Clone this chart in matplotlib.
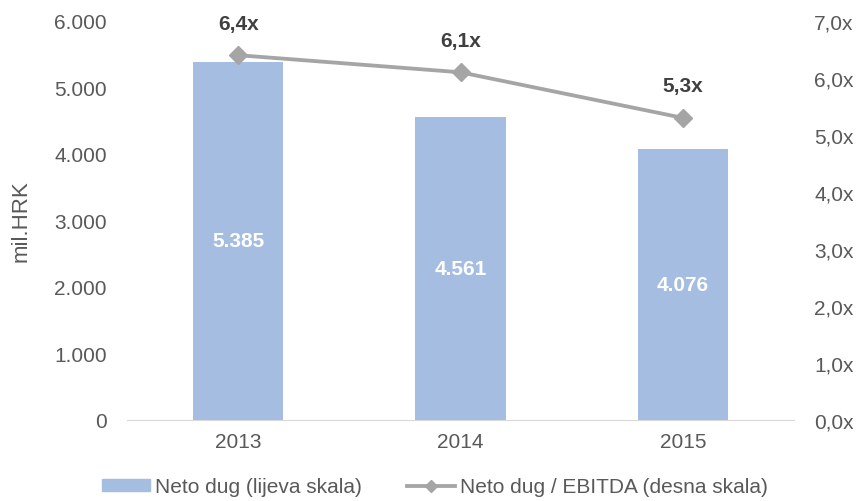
import matplotlib.pyplot as plt
from matplotlib.lines import Line2D
from matplotlib.patches import Patch
import numpy as np

years = ['2013', '2014', '2015']
net_debt = [5385, 4561, 4076]
debt_ebitda = [6.4, 6.1, 5.3]

bar_color = '#A4BDE1'
line_color = '#A5A5A5'
text_color = '#595959'

plt.rcParams['font.family'] = ['Liberation Sans', 'DejaVu Sans']

fig = plt.figure(figsize=(8.61, 5.02), dpi=100)
ax = fig.add_axes([0.1475, 0.1614, 0.7747, 0.7948])
ax2 = ax.twinx()

x = np.arange(len(years))
ax.bar(x, net_debt, width=0.405, color=bar_color, zorder=1)
for xi, v in zip(x, net_debt):
    ax.text(xi, v / 2, f'{v:,}'.replace(',', '.'), ha='center', va='center',
            color='white', fontsize=15, fontweight='bold')

ax.set_xlim(-0.5, 2.5)
ax.set_ylim(0, 6000)
ax.set_yticks(range(0, 6001, 1000))
ax.set_yticklabels([f'{v:,}'.replace(',', '.') for v in range(0, 6001, 1000)])
ax.set_xticks(x)
ax.set_xticklabels(years)
ax.set_ylabel('mil.HRK', color=text_color, fontsize=16, labelpad=16)

ax2.plot(x, debt_ebitda, color=line_color, lw=2.75, marker='D', ms=9, zorder=3)
for xi, v in zip(x, debt_ebitda):
    ax2.text(xi, v + 0.56, f'{v:.1f}x'.replace('.', ','), ha='center', va='center',
             color='#404040', fontsize=15, fontweight='bold')
ax2.set_ylim(0, 7)
ax2.set_yticks(np.arange(0, 7.01, 1))
ax2.set_yticklabels([f'{v:.1f}x'.replace('.', ',') for v in np.arange(0, 7.01, 1)])

for a in (ax, ax2):
    for s in a.spines.values():
        s.set_visible(False)
    a.tick_params(length=0, labelsize=15, labelcolor=text_color, pad=14.5)
ax.spines['bottom'].set_visible(True)
ax.spines['bottom'].set_color('#D9D9D9')
ax.tick_params(axis='x', pad=9)

handles = [Patch(color=bar_color),
           Line2D([], [], color=line_color, lw=2.75, marker='D', ms=6)]
labels = ['Neto dug (lijeva skala)', 'Neto dug / EBITDA (desna skala)']
fig.legend(handles, labels, loc='center', bbox_to_anchor=(0.505, 0.028), ncol=2,
           frameon=False, fontsize=15, labelcolor=text_color,
           handlelength=2.3, handleheight=0.45, handletextpad=0.24,
           columnspacing=2.2, borderpad=0)

fig.savefig('out.png', dpi=100)
